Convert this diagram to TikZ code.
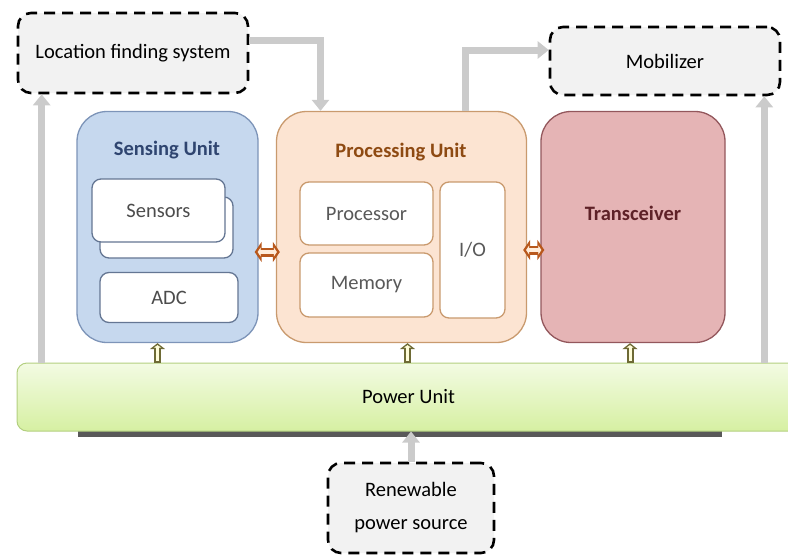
\documentclass[tikz,border=0pt]{standalone}
\usepackage{fontspec}
\setmainfont{Carlito}
\usetikzlibrary{arrows.meta}
\definecolor{senseblue}{HTML}{C6D8EE}
\definecolor{senseline}{HTML}{7D94B8}
\definecolor{sensetext}{HTML}{2F4570}
\definecolor{procpeach}{HTML}{FCE4D2}
\definecolor{procline}{HTML}{C99A6E}
\definecolor{proctext}{HTML}{8E4A12}
\definecolor{trxpink}{HTML}{E5B4B5}
\definecolor{trxline}{HTML}{93575C}
\definecolor{trxtext}{HTML}{5E2127}
\definecolor{boxgrey}{HTML}{F2F2F2}
\definecolor{arrowgrey}{HTML}{CBCBCB}
\definecolor{powtop}{HTML}{F3FBE3}
\definecolor{powbot}{HTML}{D6F0A2}
\definecolor{powline}{HTML}{B3CF80}
\definecolor{pwrolive}{HTML}{6E6A35}
\definecolor{linkbrown}{HTML}{B8581C}
\begin{document}
\begin{tikzpicture}[x=1pt,y=-1pt,font=\fontsize{20.5}{25}\selectfont,
  ext/.style={draw=black,fill=boxgrey,line width=2.6pt,dash pattern=on 11pt off 7pt,rounded corners=13pt,align=center},
  unit/.style={draw,line width=1.3pt,rounded corners=30pt,minimum height=231pt},
  part/.style={draw,fill=white,line width=1.3pt,rounded corners=9pt},
  flow/.style={draw=arrowgrey,line width=7pt,-{Triangle[length=11pt,width=17pt]}},
  pwr/.style={draw=pwrolive,line width=7pt,-{Triangle[length=6pt,width=15pt]},
    postaction={draw=yellow!15,line width=3pt,shorten <=1.5pt,shorten >=2pt,-{Triangle[length=2.5pt,width=7pt]}}},
  link/.style={draw=linkbrown,line width=9pt,shorten <=-4pt,shorten >=-4pt,{Triangle[length=7pt,width=20pt]}-{Triangle[length=7pt,width=20pt]},
    postaction={draw=orange!15,line width=4pt,shorten <=-1pt,shorten >=-1pt,{Triangle[length=3pt,width=9pt]}-{Triangle[length=3pt,width=9pt]}}}]
\clip (0,0) rectangle (788,555);
% outside blocks
\node[ext,minimum width=230pt,minimum height=80pt] (loc) at (133,53) {Location finding system};
\node[ext,minimum width=230pt,minimum height=68pt] (mob) at (665,61) {Mobilizer};
\node[ext,font=\fontsize{20.5}{33}\selectfont,minimum width=166pt,minimum height=90pt] (renew) at (411,508) {Renewable\\power source};
% sensing unit
\node[unit,draw=senseline,fill=senseblue,minimum width=181pt] (sense) at (167.5,227) {};
\node[font=\fontsize{20.5}{25}\selectfont\bfseries,text=sensetext] (senselbl) at (167,150) {Sensing Unit};
\node[part,draw=senseline!80!black,minimum width=133pt,minimum height=61pt] (sensorsback) at (166.5,227.5) {};
\node[part,draw=senseline!80!black,text=black!70,minimum width=133pt,minimum height=63pt] (sensors) at (158.5,210.5) {Sensors};
\node[part,draw=senseline!80!black,text=black!70,minimum width=138pt,minimum height=50pt] (adc) at (169,297.5) {ADC};
% processing unit
\node[unit,draw=procline,fill=procpeach,minimum width=250pt] (proc) at (401.5,227) {};
\node[font=\fontsize{20.5}{25}\selectfont\bfseries,text=proctext] (proclbl) at (401,152) {Processing Unit};
\node[part,draw=procline,text=black!65,minimum width=133pt,minimum height=63pt] (cpu) at (366.5,213.5) {Processor};
\node[part,draw=procline,text=black!65,minimum width=133pt,minimum height=64pt] (mem) at (366.5,285) {Memory};
\node[part,draw=procline,text=black!65,minimum width=65pt,minimum height=136pt] (io) at (472.5,250) {I/O};
% transceiver
\node[unit,draw=trxline,fill=trxpink,minimum width=184pt] (trx) at (633,227) {};
\node[font=\fontsize{20.5}{25}\selectfont\bfseries,text=trxtext] (trxlbl) at (633,213) {Transceiver};
% power unit
\fill[black!65] (78,428) rectangle (722,437);
\node[draw=powline,line width=1pt,rounded corners=10pt,top color=powtop,bottom color=powbot,minimum width=783pt,minimum height=68pt] (power) at (408.5,397) {Power Unit};
% connectors
\draw[flow] ([yshift=13pt]loc.east) -| ([xshift=-81pt]proc.north);
\draw[flow] ([xshift=64pt]proc.north) |- ([yshift=11pt]mob.west);
\draw[flow] ([xshift=25pt]loc.south west |- power.north) -- ([xshift=25pt]loc.south west);
\draw[flow] ([xshift=-17pt]mob.south east |- power.north) -- ([xshift=-17pt]mob.south east);
\draw[flow] (renew.north) -- (renew.north |- power.south);
\draw[pwr] ([xshift=-10pt]sense.south |- power.north) -- ([xshift=-10pt]sense.south);
\draw[pwr] ([xshift=6pt]proc.south |- power.north) -- ([xshift=6pt]proc.south);
\draw[pwr] ([xshift=-3pt]trx.south |- power.north) -- ([xshift=-3pt]trx.south);
\draw[link] ([yshift=-25pt]sense.east) -- ([yshift=-25pt]proc.west);
\draw[link] ([yshift=-23pt]proc.east) -- ([yshift=-23pt]trx.west);
\end{tikzpicture}
\end{document}
